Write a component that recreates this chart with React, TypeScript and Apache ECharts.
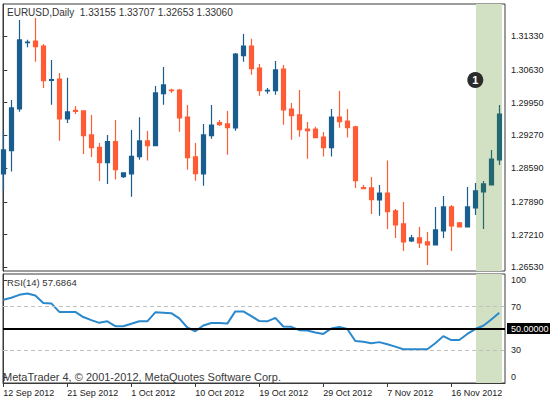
import React, { useEffect, useRef } from "react";
import * as echarts from "echarts";

// ---- data ----
const dates = [
  "12 Sep 2012", "13 Sep 2012", "14 Sep 2012", "16 Sep 2012", "17 Sep 2012", "18 Sep 2012", "19 Sep 2012", "20 Sep 2012",
  "21 Sep 2012", "23 Sep 2012", "24 Sep 2012", "25 Sep 2012", "26 Sep 2012", "27 Sep 2012", "28 Sep 2012", "30 Sep 2012",
  "1 Oct 2012", "2 Oct 2012", "3 Oct 2012", "4 Oct 2012", "5 Oct 2012", "7 Oct 2012", "8 Oct 2012", "9 Oct 2012",
  "10 Oct 2012", "11 Oct 2012", "12 Oct 2012", "14 Oct 2012", "15 Oct 2012", "16 Oct 2012", "17 Oct 2012", "18 Oct 2012",
  "19 Oct 2012", "21 Oct 2012", "22 Oct 2012", "23 Oct 2012", "24 Oct 2012", "25 Oct 2012", "26 Oct 2012", "28 Oct 2012",
  "29 Oct 2012", "30 Oct 2012", "31 Oct 2012", "1 Nov 2012", "2 Nov 2012", "4 Nov 2012", "5 Nov 2012", "6 Nov 2012",
  "7 Nov 2012", "8 Nov 2012", "9 Nov 2012", "11 Nov 2012", "12 Nov 2012", "13 Nov 2012", "14 Nov 2012", "15 Nov 2012",
  "16 Nov 2012", "18 Nov 2012", "19 Nov 2012", "20 Nov 2012", "21 Nov 2012", "22 Nov 2012", "23 Nov 2012",
];

const xTickLabels = ["12 Sep 2012", "21 Sep 2012", "1 Oct 2012", "10 Oct 2012", "19 Oct 2012", "29 Oct 2012", "7 Nov 2012", "16 Nov 2012"];

const opens = [
  1.28469, 1.28953, 1.29817, 1.31192, 1.31227, 1.31123, 1.30411, 1.30439, 1.29610, 1.29789,
  1.29776, 1.29278, 1.29022, 1.28704, 1.29140, 1.28414, 1.28469, 1.28829, 1.29154, 1.29057,
  1.30135, 1.30211, 1.30211, 1.29651, 1.28822, 1.28469, 1.29264, 1.29534, 1.29506, 1.29423,
  1.30923, 1.31123, 1.30667, 1.30190, 1.30197, 1.30646, 1.29817, 1.29693, 1.29402, 1.29402,
  1.29236, 1.29015, 1.29651, 1.29568, 1.29444, 1.28186, 1.28179, 1.27930, 1.28075, 1.27702,
  1.27433, 1.27080, 1.27142, 1.27059, 1.26997, 1.27287, 1.27785, 1.27453, 1.27370, 1.27764,
  1.28096, 1.28241, 1.28760,
];
const closes = [
  1.28967, 1.29838, 1.31248, 1.31206, 1.31109, 1.30404, 1.30425, 1.29610, 1.29755, 1.29769,
  1.29264, 1.29015, 1.28704, 1.29140, 1.28559, 1.28490, 1.28836, 1.29154, 1.29057, 1.30149,
  1.30315, 1.30197, 1.29630, 1.28808, 1.28476, 1.29278, 1.29485, 1.29492, 1.29430, 1.30957,
  1.31123, 1.30653, 1.30197, 1.30204, 1.30626, 1.29796, 1.29679, 1.29388, 1.29368, 1.29223,
  1.29015, 1.29651, 1.29554, 1.29430, 1.28331, 1.28165, 1.27937, 1.28075, 1.27688, 1.27412,
  1.27059, 1.27142, 1.27039, 1.26997, 1.27308, 1.27785, 1.27391, 1.27370, 1.27785, 1.28117,
  1.28262, 1.28780, 1.29713,
];
const lows = [
  1.28124, 1.28518, 1.29762, 1.31096, 1.30798, 1.30252, 1.29907, 1.29160, 1.29527, 1.29713,
  1.28884, 1.28822, 1.28324, 1.28262, 1.28352, 1.28386, 1.27999, 1.28766, 1.28746, 1.29050,
  1.29907, 1.30149, 1.29347, 1.28559, 1.28331, 1.28227, 1.29202, 1.29465, 1.28870, 1.29368,
  1.30798, 1.30529, 1.30093, 1.30135, 1.30114, 1.29492, 1.29181, 1.29243, 1.28787, 1.29216,
  1.28829, 1.28829, 1.29430, 1.29223, 1.28179, 1.28158, 1.27640, 1.27605, 1.27329, 1.27142,
  1.26873, 1.27059, 1.26935, 1.26583, 1.26990, 1.27142, 1.26873, 1.27365, 1.27365, 1.27619,
  1.27329, 1.28234, 1.28656,
];
const highs = [
  1.29347, 1.30004, 1.31662, 1.31255, 1.31704, 1.31165, 1.30833, 1.30563, 1.30467, 1.29879,
  1.29782, 1.29693, 1.29112, 1.29278, 1.29589, 1.28497, 1.29382, 1.29644, 1.29361, 1.30294,
  1.30688, 1.30239, 1.30232, 1.29900, 1.29112, 1.29506, 1.29900, 1.29589, 1.29776, 1.30978,
  1.31372, 1.31275, 1.30750, 1.30252, 1.30812, 1.30729, 1.29941, 1.30211, 1.29547, 1.29451,
  1.29340, 1.29817, 1.30190, 1.29817, 1.29471, 1.28241, 1.28407, 1.28241, 1.28746, 1.27744,
  1.27889, 1.27205, 1.27370, 1.27267, 1.27785, 1.28013, 1.27827, 1.27474, 1.28200, 1.28283,
  1.28324, 1.28967, 1.29900,
];

const rsi = [
  76.4, 78.2, 80.9, 82.1, 80.3, 73.4, 73.0, 65.2, 65.2, 65.2,
  60.5, 57.7, 55.2, 56.6, 52.1, 52.1, 54.3, 56.6, 56.6, 64.8,
  64.5, 64.1, 59.3, 50.9, 47.5, 52.7, 55.0, 55.0, 54.5, 65.7,
  65.7, 61.4, 56.8, 56.6, 59.7, 51.8, 51.5, 48.5, 48.2, 46.4,
  45.0, 50.0, 51.5, 49.5, 38.5, 37.9, 36.5, 37.5, 35.5, 33.4,
  30.9, 30.9, 30.9, 30.9, 36.4, 43.0, 39.4, 39.4, 45.0, 49.5,
  52.5, 58.2, 64.5,
];

const priceTicks = [1.3133, 1.3063, 1.2995, 1.2927, 1.2859, 1.2789, 1.2721, 1.2653];
const rsiLevels = [30, 70];
const rsiCenter = 50;
const highlightedBars = [59, 60, 61, 62];
const markerBar = 59;
const markerLabel = "1";

const titleText = "EURUSD,Daily  1.33155 1.33707 1.32653 1.33060";
const rsiText = "RSI(14) 57.6864";
const creditText = "MetaTrader 4, \u00A9 2001-2012, MetaQuotes Software Corp.";

// ---- styles ----
const FONT = '"Liberation Sans", Arial, sans-serif';
const BLUE = "#1A5E8F";
const ORANGE = "#FF5B35";
const TEAL = "#226970";
const HL = "#D2E0C4";

export default function App() {
  const ref = useRef<HTMLDivElement>(null);

  useEffect(() => {
    if (!ref.current) return;
    const chart = echarts.init(ref.current, undefined, { renderer: "svg" });

    const X_MIN = -0.0375;
    const X_MAX = 62.7125;
    const xTickIdx = xTickLabels.map((l) => dates.indexOf(l));

    const candleData = dates.map((_, i) => {
      const item: any = { value: [i, opens[i], closes[i], lows[i], highs[i]] };
      if (highlightedBars.includes(i)) {
        const c = i === highlightedBars[0] ? "#1C6180" : TEAL;
        item.itemStyle = { color: c, borderColor: c, color0: c, borderColor0: c };
      }
      return item;
    });
    const rsiData = dates.map((_, i) => [i, rsi[i]]);

    const hlStart = highlightedBars[0] + 0.08;
    const hlEnd = highlightedBars[highlightedBars.length - 1] + 0.33;

    // RSI axis label positions (MT4 pulls the 0 / 100 labels inside the panel)
    const rsiLabelPos = [5.5, 30, 70, 94.5];
    const rsiLabelText = (v: number) => (v > 90 ? "100" : v < 10 ? "0" : String(Math.round(v)));

    const option: any = {
      animation: false,
      backgroundColor: "#ffffff",
      textStyle: { fontFamily: FONT },
      grid: [
        { left: 3, top: 4, right: 45, height: 267, show: true, borderColor: "#3a3a3a", borderWidth: 1, backgroundColor: "transparent" },
        { left: 3, top: 274, right: 45, height: 109, show: true, borderColor: "#3a3a3a", borderWidth: 1, backgroundColor: "transparent" },
      ],
      xAxis: [
        {
          type: "value", gridIndex: 0, min: X_MIN, max: X_MAX,
          axisLine: { show: false }, axisTick: { show: false }, axisLabel: { show: false }, splitLine: { show: false },
        },
        {
          type: "value", gridIndex: 1, min: X_MIN, max: X_MAX,
          axisLine: { show: true, onZero: false, lineStyle: { color: "#3a3a3a", width: 1 } },
          axisTick: { show: true, customValues: xTickIdx, length: 4, lineStyle: { color: "#3a3a3a" } },
          axisLabel: {
            show: true, customValues: xTickIdx, formatter: (v: number) => dates[Math.round(v)] ?? "",
            align: "left", margin: 5, fontSize: 9, color: "#222", fontFamily: FONT,
          },
          splitLine: { show: false },
        },
      ],
      yAxis: [
        {
          type: "value", gridIndex: 0, position: "right", min: 1.26457, max: 1.31994, scale: true,
          axisLine: { show: true, lineStyle: { color: "#3a3a3a", width: 1 } },
          axisTick: { show: true, customValues: priceTicks, length: 4, lineStyle: { color: "#3a3a3a" } },
          axisLabel: {
            show: true, customValues: priceTicks, formatter: (v: number) => v.toFixed(5),
            margin: 6, fontSize: 9, color: "#222", fontFamily: FONT,
          },
          splitLine: { show: false },
        },
        {
          type: "value", gridIndex: 1, position: "right", min: 0, max: 100,
          axisLine: { show: true, lineStyle: { color: "#3a3a3a", width: 1 } },
          axisTick: { show: true, customValues: rsiLabelPos, length: 4, lineStyle: { color: "#3a3a3a" } },
          axisLabel: {
            show: true, customValues: rsiLabelPos, formatter: rsiLabelText,
            margin: 6, fontSize: 9, color: "#222", fontFamily: FONT,
          },
          splitLine: { show: false },
        },
      ],
      series: [
        {
          type: "line", name: "hl-main", xAxisIndex: 0, yAxisIndex: 0, data: [], z: 1, silent: true,
          markArea: { silent: true, itemStyle: { color: HL, opacity: 1 }, data: [[{ xAxis: hlStart }, { xAxis: hlEnd }]] },
        },
        {
          type: "line", name: "hl-rsi", xAxisIndex: 1, yAxisIndex: 1, data: [], z: 1, silent: true,
          markArea: { silent: true, itemStyle: { color: HL, opacity: 1 }, data: [[{ xAxis: hlStart }, { xAxis: hlEnd }]] },
        },
        {
          type: "candlestick", name: "EURUSD", xAxisIndex: 0, yAxisIndex: 0, z: 3,
          barWidth: 4, clip: true,
          encode: { x: 0, y: [1, 2, 3, 4] },
          itemStyle: { color: BLUE, color0: ORANGE, borderColor: BLUE, borderColor0: ORANGE, borderWidth: 1.2 },
          data: candleData,
          markPoint: {
            silent: true,
            symbol: "circle", symbolSize: 16,
            itemStyle: { color: "#2b2b2b" },
            label: { show: true, position: "inside", formatter: markerLabel, color: "#fff", fontWeight: "bold", fontSize: 11, fontFamily: FONT },
            data: [{ coord: [markerBar, 1.30418] }],
          },
        },
        {
          type: "line", name: "RSI(14)", xAxisIndex: 1, yAxisIndex: 1, z: 3,
          data: rsiData, symbol: "none", showSymbol: false,
          lineStyle: { color: "#2A88CC", width: 2 },
          markLine: {
            silent: true, symbol: "none",
            data: [
              ...rsiLevels.map((v) => ({ yAxis: v, lineStyle: { color: "#C0C0C0", width: 1, type: [4, 3] }, label: { show: false } })),
              {
                yAxis: rsiCenter,
                lineStyle: { color: "#000", width: 2, type: "solid" },
                label: {
                  show: true, position: "end", distance: 2, formatter: rsiCenter.toFixed(5),
                  color: "#fff", backgroundColor: "#000", padding: [1, 3, 1, 4], fontSize: 9, fontFamily: FONT,
                },
              },
            ],
          },
        },
      ],
      graphic: [
        { type: "text", left: 7, top: 7, style: { text: titleText, font: `10px ${FONT}`, fill: "#333" }, z: 10 },
        { type: "text", left: 7, top: 277, style: { text: rsiText, font: `9.5px ${FONT}`, fill: "#333" }, z: 10 },
        { type: "text", left: 3, top: 371, style: { text: creditText, font: `11px ${FONT}`, fill: "#3a3a3a" }, z: 10 },
      ],
    };

    chart.setOption(option);
    return () => chart.dispose();
  }, []);

  return (
    <div
      ref={ref}
      style={{ position: "fixed", left: 0, top: 0, width: 550, height: 399, background: "#fff" }}
    />
  );
}
